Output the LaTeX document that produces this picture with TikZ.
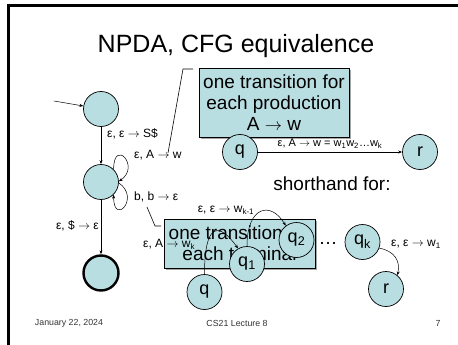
\documentclass[tikz,border=0pt]{standalone}
\usepackage{fontspec}
\setmainfont{Liberation Sans}
\usetikzlibrary{arrows.meta}
\usetikzlibrary{shadows}
\definecolor{statefill}{RGB}{185,222,226}
\tikzset{state/.style = {draw, circle, fill=statefill, line width=0.7pt, minimum size=35pt, inner sep=0, font=\fontsize{18}{18}\selectfont}}
\tikzset{final/.style = {state, line width=2.4pt}}
\tikzset{note/.style = {draw, fill=statefill, line width=0.7pt, inner sep=0, align=center, font=\fontsize{19}{21}\selectfont, drop shadow={shadow xshift=2pt, shadow yshift=-2pt, opacity=0.7}}}
\tikzset{lbl/.style = {font=\fontsize{12}{12}\selectfont, inner sep=1pt}}
\tikzset{trans/.style = {line width=0.5pt, -{Stealth[length=4pt, width=3pt]}}}
\tikzset{foot/.style = {font=\fontsize{8.8}{9}\selectfont, text=black!80}}
\newcommand{\lsub}[1]{\textsubscript{#1}}
\newcommand{\goesto}{$\rightarrow$}

\begin{document}
\begin{tikzpicture}[x=1pt, y=1pt]
    \useasboundingbox (0,0) rectangle (458,-345);
    \draw [line width=2.7pt] (8.7,-345) -- (8.7,-5.7) -- (458,-5.7);
    \node [font=\fontsize{25}{25}\selectfont] (title) at (236,-46) {NPDA, CFG equivalence};
    % the NPDA on the left
    \node [state] (st0) at (101,-109) {};
    \node [state] (st1) at (101,-182) {};
    \node [final] (st2) at (101,-273) {};
    \coordinate (init) at (54,-101);
    \draw [trans] (init) -- (st0);
    \draw [trans] (st0) -- (st1);
    \draw [trans] (st1) -- (st2);
    \draw [trans] (st1.45) .. controls +(0,32) and +(22,15) .. (st1.2);
    \draw [trans] (st1.-3) .. controls +(22,-15) and +(0,-32) .. (st1.-45);
    \node [lbl, right] (lab01) at (106,-134) {ε, ε \goesto{} S\$};
    \node [lbl, right] (loopA) at (133,-155) {ε, A \goesto{} w};
    \node [lbl, right] (loopb) at (133,-197) {b, b \goesto{} ε};
    \node [lbl, left] (lab12) at (100,-226) {ε, \$ \goesto{} ε};
    % callout for productions
    \node [note, minimum width=150pt, minimum height=69pt] (prodbox) at (274,-102.5) {one transition for\\each production\\A \goesto{} w};
    \coordinate (c1a) at (193,-69);
    \coordinate (c1b) at (183,-69);
    \coordinate (c1c) at (168,-153);
    \draw [line width=0.6pt] (c1a) -- (c1b) -- (c1c);
    \node [state] (qtop) at (240,-152) {q};
    \node [state] (rtop) at (420,-152) {r};
    \draw [trans] (qtop) -- node [above, yshift=2pt, font=\fontsize{11}{11}\selectfont, inner sep=1pt] (labqr) {ε, A \goesto{} w = w\lsub{1}w\lsub{2}…w\lsub{k}} (rtop);
    \node [font=\fontsize{19}{19}\selectfont] (short) at (332,-184) {shorthand for:};
    % callout for terminals
    \node [note, minimum width=151pt, minimum height=49pt] (termbox) at (239.5,-243.5) {one transition for\\each terminal};
    \coordinate (c2a) at (147,-207);
    \coordinate (c2b) at (155,-226);
    \coordinate (c2c) at (161,-226);
    \draw [line width=0.6pt] (c2a) -- (c2b) -- (c2c);
    \node [lbl, right] (labqk) at (142,-244) {ε, A \goesto{} w\lsub{k}};
    \node [state] (qbot) at (204.5,-292) {q};
    \node [state] (qone) at (247,-264) {q\lsub{1}};
    \node [state] (qtwo) at (296.5,-240) {q\lsub{2}};
    \node [font=\fontsize{19}{19}\selectfont] (dots) at (328,-243) {…};
    \node [state] (qkay) at (362.5,-242) {q\lsub{k}};
    \node [state] (rbot) at (386,-289) {r};
    \draw [trans] (qbot.north) .. controls +(0,50) and +(-20,28) .. (qone.120);
    \draw [trans] (qone.north) .. controls +(0,40) and +(-15,25) .. (qtwo.127);
    \draw [trans] (qkay.-20) .. controls +(15,-3) and +(3,15) .. (rbot.50);
    \node [lbl] (labkm) at (226,-210) {ε, ε \goesto{} w\lsub{k-1}};
    \node [lbl] (labwone) at (416,-244) {ε, ε \goesto{} w\lsub{1}};
    % footer
    \node [foot] (date) at (69,-323) {January 22, 2024};
    \node [foot] (course) at (237,-323) {CS21 Lecture 8};
    \node [foot] (page) at (438,-323) {7};
\end{tikzpicture}
\end{document}
